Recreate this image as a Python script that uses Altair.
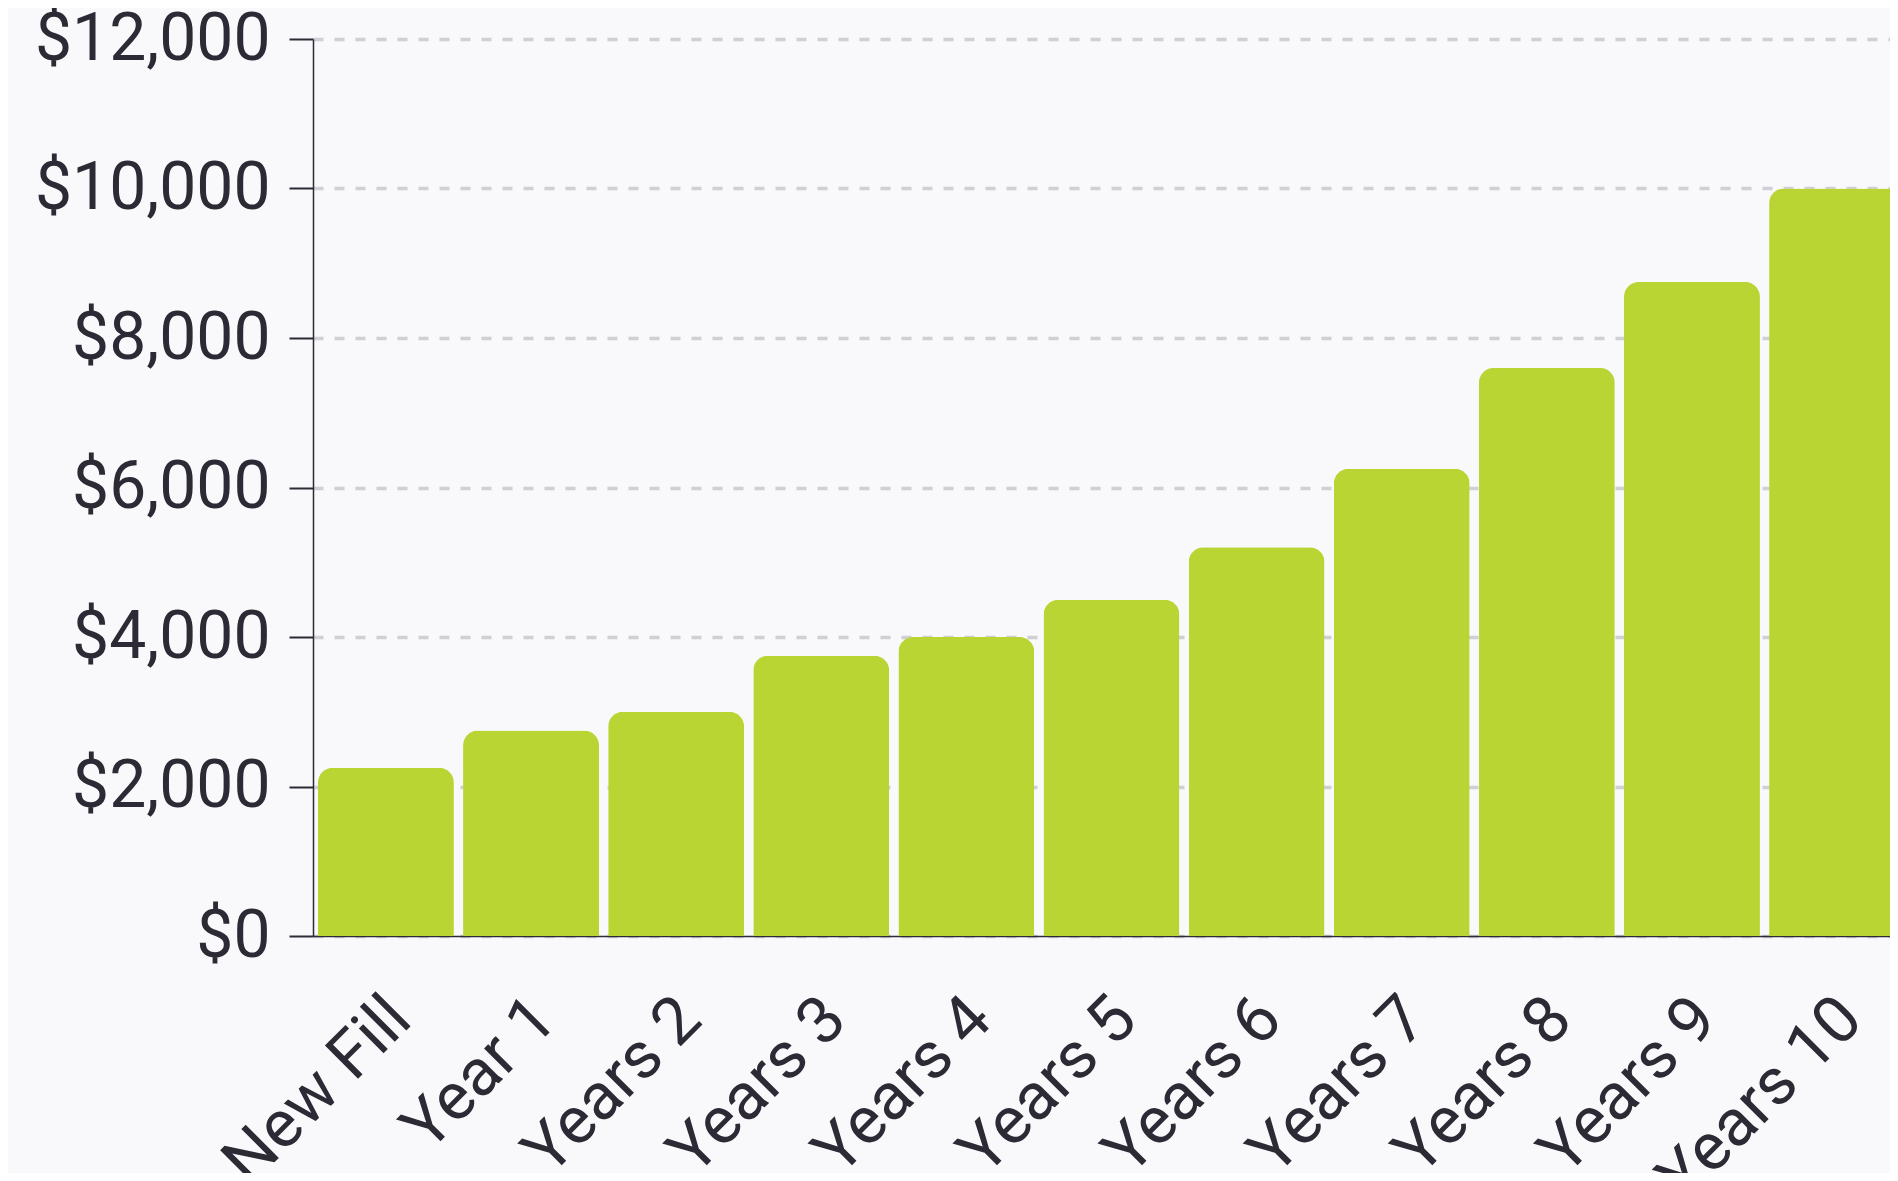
import altair as alt
import pandas as pd

categories = ["New Fill", "Year 1", "Years 2", "Years 3", "Years 4", "Years 5",
              "Years 6", "Years 7", "Years 8", "Years 9", "Years 10"]
values = [2250, 2750, 3000, 3750, 4000, 4500, 5200, 6250, 7600, 8750, 10000]
y_ticks = [0, 2000, 4000, 6000, 8000, 10000, 12000]

df = pd.DataFrame({"period": categories, "cost": values})

TEXT = "#2b2a35"
FONT = "Roboto"

chart = alt.Chart(df).mark_bar(
    color="#b9d534",
    cornerRadiusTopLeft=15,
    cornerRadiusTopRight=15,
).encode(
    x=alt.X(
        "period:N",
        sort=categories,
        title=None,
        scale=alt.Scale(range=[0, 1597], paddingInner=0.063, paddingOuter=0.034),
        axis=alt.Axis(
            labelAngle=-45,
            labelAlign="right",
            labelBaseline="middle",
            labelOffset=14,
            labelPadding=72,
            labelLimit=0,
            ticks=False,
            tickSize=0,
            labelFontSize=66,
            labelFont=FONT,
            labelColor=TEXT,
            domainColor=TEXT,
            domainWidth=1.5,
            grid=False,
            labelOverlap=False,
        ),
    ),
    y=alt.Y(
        "cost:Q",
        title=None,
        scale=alt.Scale(domain=[0, 12000], nice=False),
        axis=alt.Axis(
            values=y_ticks,
            format="$,.0f",
            labelFontSize=66,
            labelFont=FONT,
            labelColor=TEXT,
            labelPadding=19,
            labelLimit=0,
            tickSize=24,
            tickWidth=2,
            tickColor=TEXT,
            domainColor=TEXT,
            domainWidth=1.5,
            grid=True,
            gridColor="#cfcfd4",
            gridWidth=3.5,
            gridDash=[10, 11],
        ),
    ),
).properties(
    width=1577,
    height=897,
    background="#f9f9fb",
    padding={"left": 305, "top": 31, "right": 0, "bottom": 237},
    autosize=alt.AutoSizeParams(type="none"),
).configure_view(
    stroke=None,
)

chart.save("out.html", embed_options={"renderer": "svg", "actions": False})
